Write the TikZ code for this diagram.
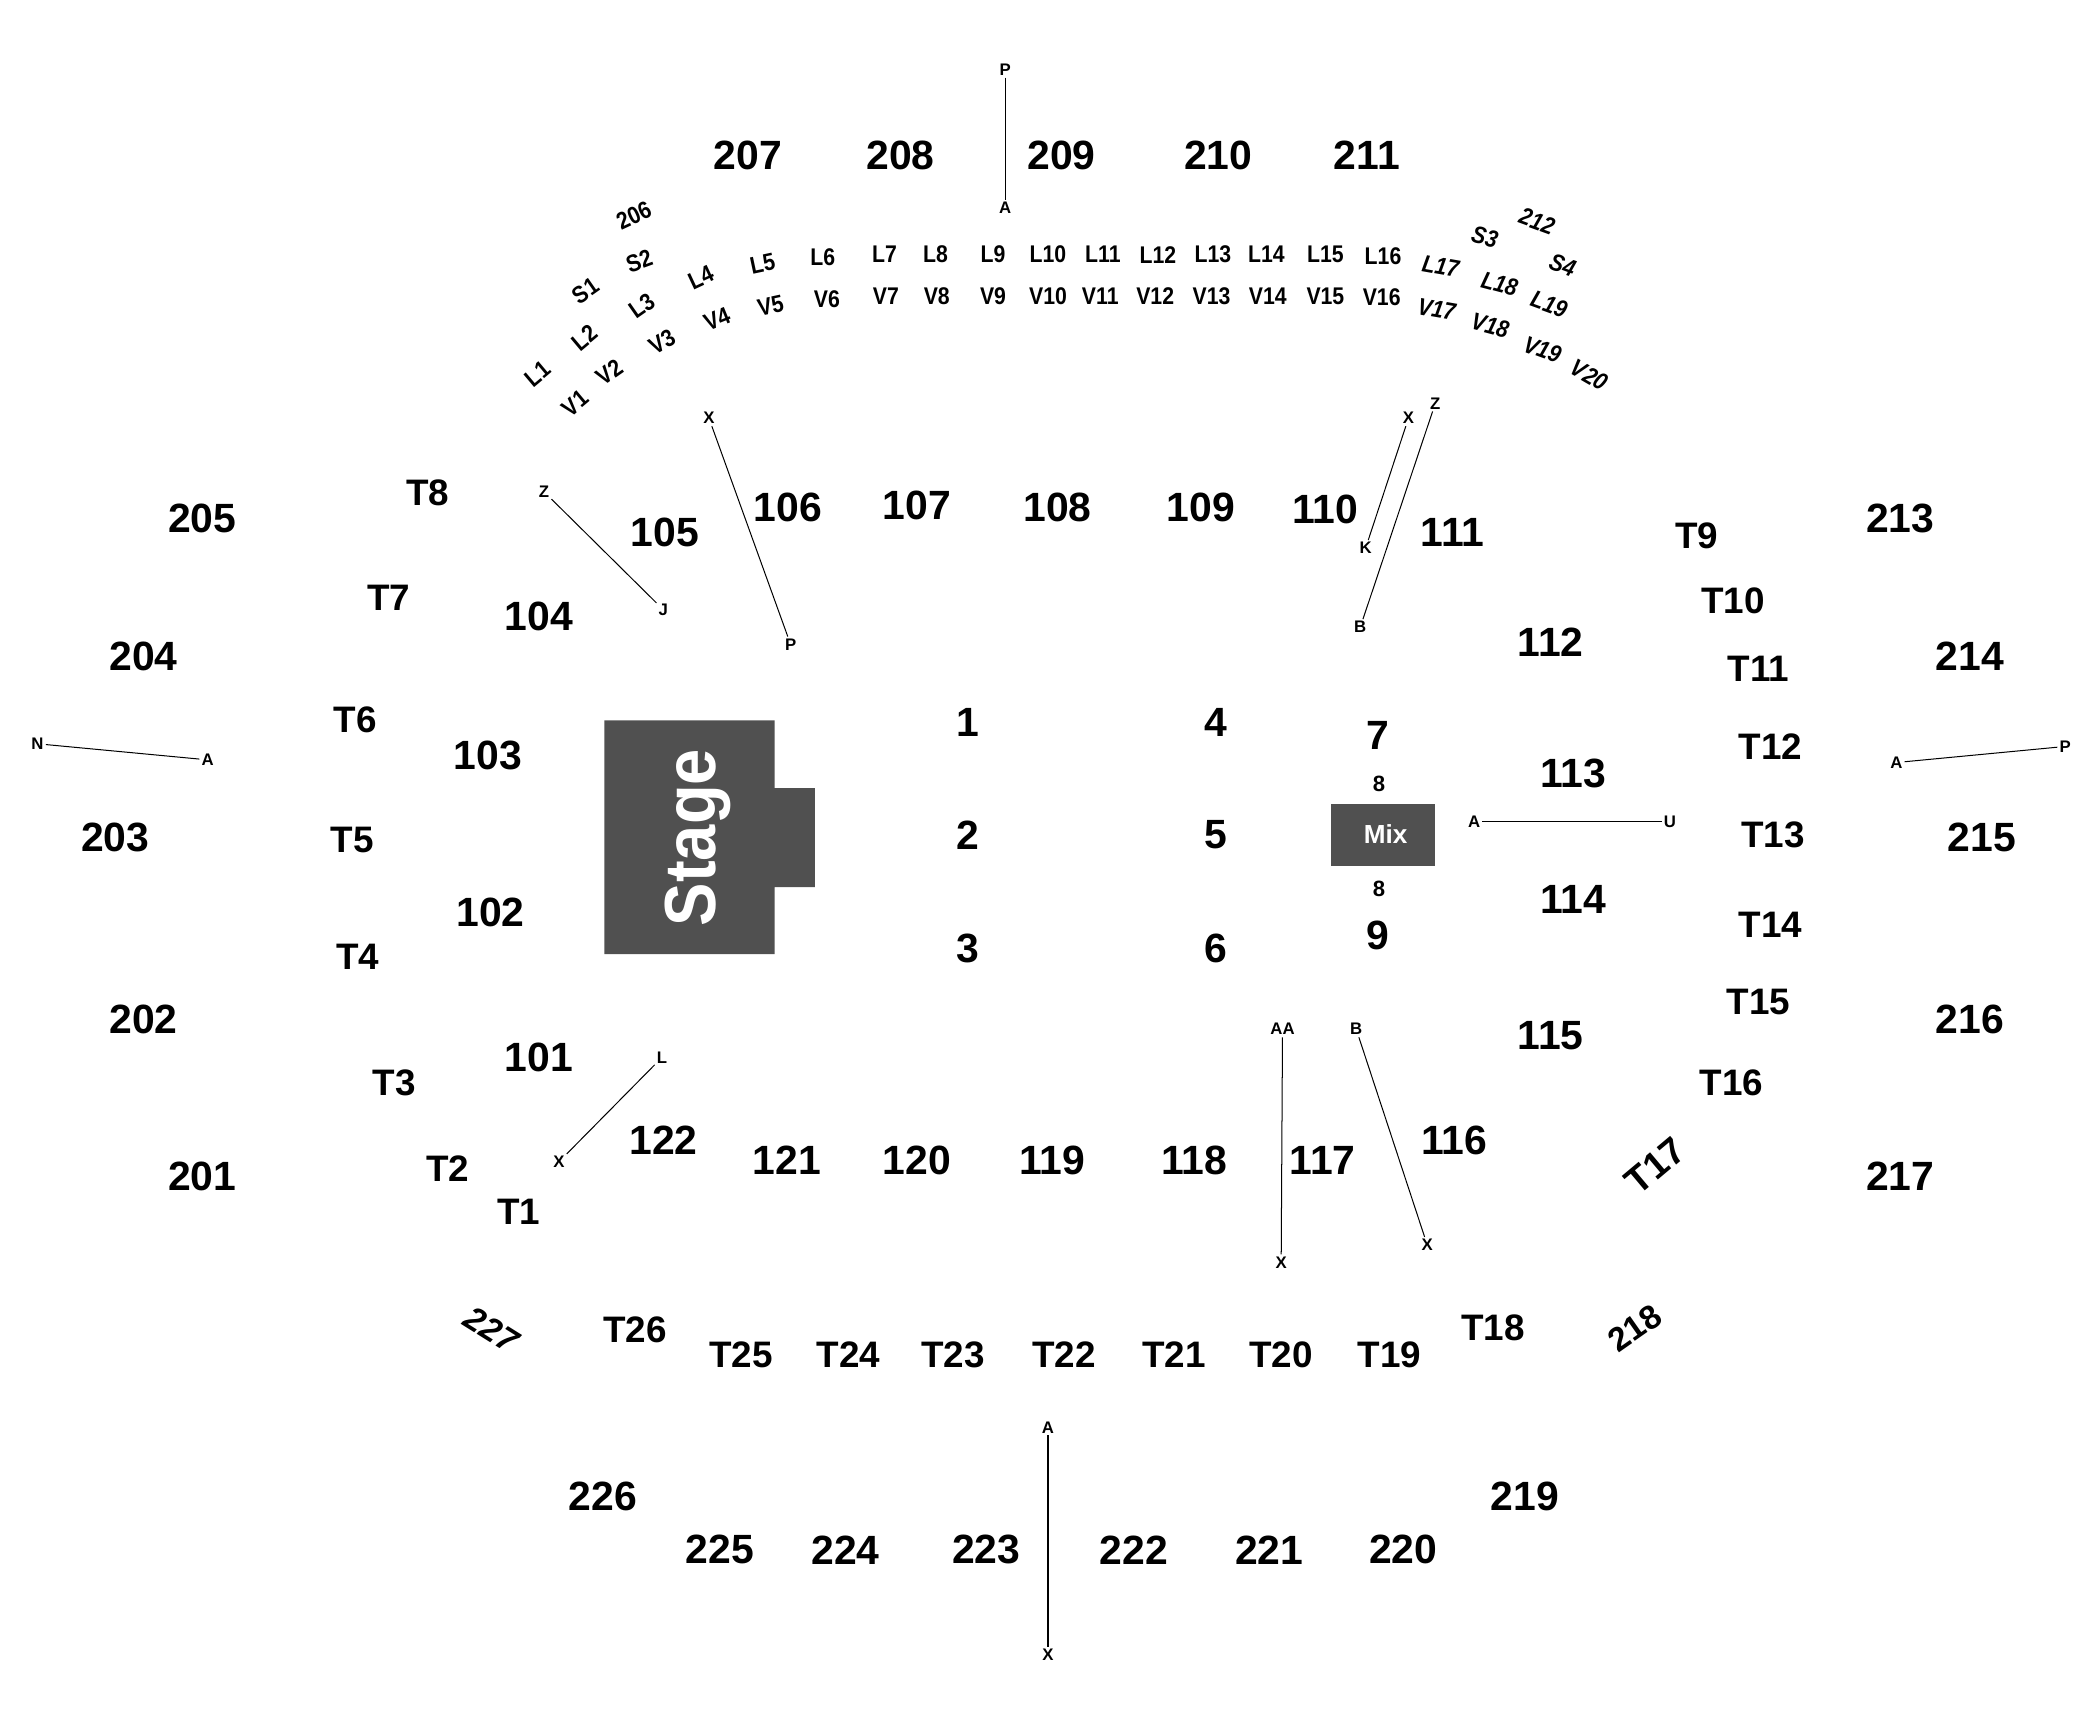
\documentclass[tikz,border=0pt]{standalone}
\usepackage{fontspec}
\setmainfont{Liberation Sans}
\newfontfamily\narrowb[FakeStretch=0.88]{Liberation Sans Bold}
\newfontfamily\narrowi[FakeStretch=0.88]{Liberation Sans Bold Italic}
\newfontfamily\stageb[FakeStretch=0.9]{Liberation Sans Bold}
\newfontfamily\plainb{Liberation Sans Bold}
\newfontfamily\plaini{Liberation Sans Bold Italic}
\definecolor{stagegrey}{HTML}{505050}
\tikzset{
  big/.style={inner sep=0pt,font=\plainb\fontsize{30.5}{30.5}\selectfont},
  tee/.style={inner sep=0pt,font=\plainb\fontsize{27.5}{27.5}\selectfont},
  row/.style={inner sep=0pt,font=\narrowb\fontsize{18}{18}\selectfont},
  rowi/.style={inner sep=0pt,font=\narrowi\fontsize{18}{18}\selectfont},
  tiny/.style={inner sep=1.5pt,font=\bfseries\fontsize{12.5}{12.5}\selectfont},
  link/.style={draw=black,line width=0.75pt},
  block/.style={fill=stagegrey,draw=none},
}
\begin{document}
\begin{tikzpicture}[x=1pt,y=-1pt]
\useasboundingbox (0,0) rectangle (1567,1283.6);
% big section numbers
\foreach \t/\x/\y in {207/558/116,208/672/116,209/792/116,210/909/116,211/1020/116,
  205/151/387,204/107/490,203/86/625,202/107/761,201/151/878,
  213/1418/387,214/1470/490,215/1479/625,216/1470/761,217/1418/878,
  226/450/1116.5,225/537/1156.5,224/631/1156.5,223/736/1156.5,222/846/1156.5,221/947/1156.5,220/1047/1156.5,219/1138/1116.5,
  105/496/397,106/588/379,107/684/377,108/789/379,109/896/379,110/989/380,111/1084/397,
  112/1157/479,113/1174/577,114/1174/671,115/1157/773,116/1085/851,117/987/866,118/891/866,
  119/785/866,120/684/866,121/587/866,122/495/851,101/402/789,102/366/681,103/364/564,104/402/460,
  1/722/539,2/722/623,3/722/708,4/907/539,5/907/623,6/907/708,7/1028/549,9/1028/698}
  \node[big] (s\t) at (\x,\y) {\t};
\node[row,font=\plainb\fontsize{16.5}{16.5}\selectfont] (eightA) at (1029,585) {8};
\node[row,font=\plainb\fontsize{16.5}{16.5}\selectfont] (eightB) at (1029,663) {8};
% T rows
\foreach \t/\x/\y in {T8/319/368,T7/290/446,T6/265/537,T5/263/627,T4/267/714,T3/294/808,T2/334/872,T1/387/904,
  T9/1266/400,T10/1293/448,T11/1312/499,T12/1321/557,T13/1323/623,T14/1321/690,T15/1312/748,T16/1292/808,
  T18/1114/991,T19/1037/1011,T20/956/1011,T21/876/1011,T22/794/1011,T23/711/1011,T24/633/1011,T25/553/1011,T26/474/992}
  \node[tee] (n\t) at (\x,\y) {\t};
\node[tee,rotate=40,font=\plainb\fontsize{28}{28}\selectfont] (nT17) at (1235,870) {T17};
\node[big,rotate=-32,font=\plaini\fontsize{25}{25}\selectfont] (n227) at (367,992) {227};
\node[big,rotate=35,font=\plainb\fontsize{25}{25}\selectfont] (n218) at (1220,991) {218};
% L, V, S rows, left and centre
\foreach \t/\x/\y/\a in {L1/401/279/40,L2/436/252/40,L3/479/228/35,L4/523/207/25,L5/569/197/12,L6/614/192/0,
  L7/660/190/0,L8/698/190/0,L9/741/190/0,L10/782/190/0,L11/823/190/0,L12/864/190/0,L13/905/190/0,L14/945/190/0,L15/989/190/0,L16/1032/191/0,
  V1/429/301/40,V2/455/278/35,V3/494/255/30,V4/535/238/22,V5/575/228/12,V6/617/223/0,
  V7/661/221/0,V8/699/221/0,V9/741/221/0,V10/782/221/0,V11/821/221/0,V12/862/221/0,V13/904/221/0,V14/946/221/0,V15/989/221/0,V16/1031/222/0,
  S1/437/217/35,S2/477/195/20,206/473/161/25}
  \node[row,rotate=\a] (r\t) at (\x,\y) {\t};
% L, V, S rows, right (oblique)
\foreach \t/\x/\y/\a in {L17/1075/199/-10,L18/1119/212/-15,L19/1156/227/-20,
  V17/1072/231/-10,V18/1112/243/-15,V19/1151/261/-20,V20/1186/280/-30,
  S3/1108/177/-15,S4/1166/198/-20,212/1147/165/-20}
  \node[rowi,rotate=\a] (r\t) at (\x,\y) {\t};
% stage and mix
\fill[block] (451,537.5) -- (578,537.5) -- (578,588) -- (608,588) -- (608,662) -- (578,662) -- (578,712) -- (451,712) -- cycle;
\node[inner sep=0pt,rotate=90,text=white,font=\stageb\fontsize{54}{54}\selectfont] (stage) at (521,625) {Stage};
\fill[block] (993,600) rectangle (1071,646);
\node[inner sep=0pt,text=white,font=\plainb\fontsize{19.5}{19.5}\selectfont] (mix) at (1034,622) {Mix};
% row markers
\node[tiny] (a1) at (750,52) {P};   \node[tiny] (a2) at (750,155) {A};
\node[tiny] (b1) at (529,312) {X};  \node[tiny] (b2) at (590,481) {P};
\node[tiny] (c1) at (406,367) {Z};  \node[tiny] (c2) at (495,455) {J};
\node[tiny] (d1) at (28,555) {N};   \node[tiny] (d2) at (155,567) {A};
\node[tiny] (e1) at (1415,569) {A}; \node[tiny] (e2) at (1541,557) {P};
\node[tiny] (f1) at (1051,312) {X}; \node[tiny] (f2) at (1019,409) {K};
\node[tiny] (g1) at (1071,301) {Z}; \node[tiny] (g2) at (1015,468) {B};
\node[tiny] (h1) at (1100,613) {A}; \node[tiny] (h2) at (1246,613) {U};
\node[tiny] (i1) at (494,789) {L};  \node[tiny] (i2) at (417,867) {X};
\node[tiny] (j1) at (957,768) {AA}; \node[tiny] (j2) at (956,942) {X};
\node[tiny] (k1) at (1012,768) {B}; \node[tiny] (k2) at (1065,929) {X};
\node[tiny] (m1) at (782,1065) {A}; \node[tiny] (m2) at (782,1235) {X};
\foreach \p/\q in {a1/a2,b1/b2,c1/c2,d1/d2,e1/e2,f1/f2,g1/g2,h1/h2,i1/i2,j1/j2,k1/k2,m1/m2}
  \draw[link] (\p) -- (\q);
\end{tikzpicture}
\end{document}
